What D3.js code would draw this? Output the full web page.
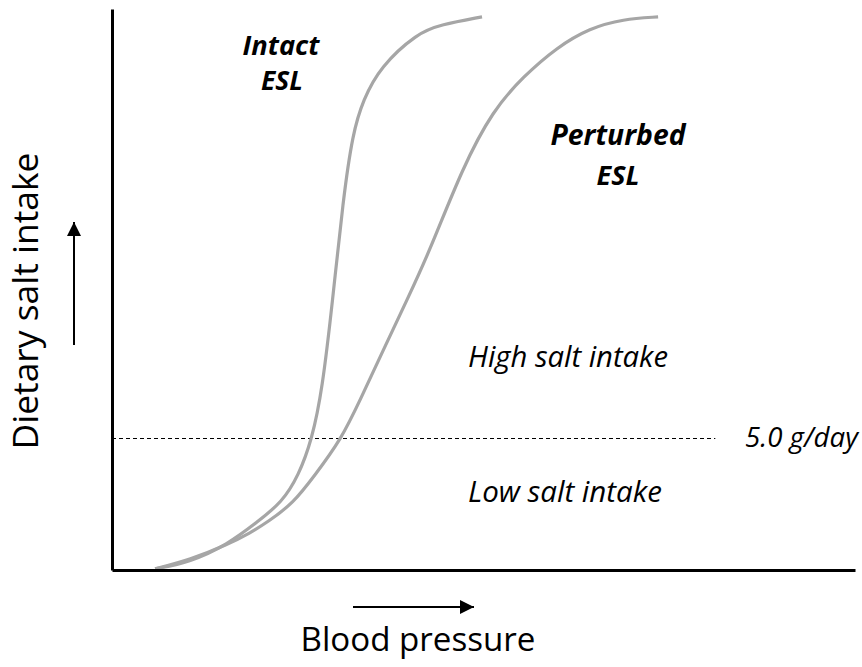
<!DOCTYPE html>
<html>
<head>
<meta charset="utf-8">
<script src="https://cdn.jsdelivr.net/npm/d3@7"></script>
<style>
  body { margin: 0; background: #fff; }
  text { font-family: "Open Sans", sans-serif; fill: #000; }
</style>
</head>
<body>
<div id="canvas"></div>
<script>
// curve samples (0-100 units on both axes)
var intactX    = [5.8, 10.5, 15.5, 19.6, 22.9, 25.1, 26.9, 28.3, 29.7, 31.1, 32.4, 33.8, 36.1, 41.1, 44.2, 49.8];
var intactY    = [0.2, 1.4, 4.5, 8.6, 12.1, 16.8, 23.2, 32.1, 48.1, 66.0, 77.9, 83.8, 89.7, 95.7, 97.2, 98.6];
var perturbedX = [5.8, 10.5, 15.5, 18.6, 21.0, 24.4, 27.3, 30.8, 33.4, 36.5, 39.7, 42.8, 47.2, 51.3, 55.3, 59.9, 64.3, 68.8, 73.5];
var perturbedY = [0.2, 1.8, 4.5, 6.6, 8.6, 11.9, 16.9, 23.2, 30.3, 39.2, 48.1, 57.0, 71.8, 82.0, 87.9, 93.2, 96.6, 98.2, 98.6];
var thresholdY = 23.5;
var thresholdEnd = 81.2;
var thresholdLabel = '5.0 g/day';
var curveLabels = [['Intact', 'ESL'], ['Perturbed', 'ESL']];
var zoneLabels = ['High salt intake', 'Low salt intake'];
var xTitle = 'Blood pressure', yTitle = 'Dietary salt intake';

var W = 862, H = 667;
var svg = d3.select('#canvas').append('svg')
    .attr('width', W).attr('height', H);

var x = d3.scaleLinear().domain([0, 100]).range([112, 855]);
var y = d3.scaleLinear().domain([0, 100]).range([570, 9]);

// markers for the arrows
svg.append('defs').append('marker')
    .attr('id', 'head')
    .attr('viewBox', '0 0 10 10')
    .attr('refX', 10).attr('refY', 5)
    .attr('markerUnits', 'userSpaceOnUse')
    .attr('markerWidth', 15).attr('markerHeight', 14)
    .attr('orient', 'auto')
    .append('path').attr('d', 'M0,0L10,5L0,10Z').attr('fill', '#000');

// threshold
var ty = Math.round(y(thresholdY)) + 0.5;
svg.append('line')
    .attr('x1', x(0)).attr('x2', x(thresholdEnd))
    .attr('y1', ty).attr('y2', ty)
    .attr('stroke', '#000').attr('stroke-width', 1)
    .attr('stroke-dasharray', '4,3');

// curves
var line = d3.line()
    .x(function(d){ return x(d[0]); })
    .y(function(d){ return y(d[1]); })
    .curve(d3.curveBasis);

[[intactX, intactY], [perturbedX, perturbedY]].forEach(function(s){
  svg.append('path')
      .datum(d3.zip(s[0], s[1]))
      .attr('d', line)
      .attr('fill', 'none')
      .attr('stroke', '#a6a6a6')
      .attr('stroke-width', 3.2);
});

// axes, no ticks
svg.append('g').attr('transform', 'translate(0,' + y(0) + ')')
    .call(d3.axisBottom(x).ticks(0).tickSizeOuter(0))
    .select('.domain').attr('stroke-width', 3);
svg.append('g').attr('transform', 'translate(' + x(0) + ',0)')
    .call(d3.axisLeft(y).ticks(0).tickSizeOuter(0))
    .select('.domain').attr('stroke-width', 3);

// fit a text to a given width
function fit(sel, width) {
  sel.style('font-size', '100px');
  var len = sel.node().getComputedTextLength();
  sel.style('font-size', (100 * width / len) + 'px');
  return sel;
}

function label(txt, cx, by, width, weight, style, anchor) {
  var t = svg.append('text').text(txt)
      .attr('x', cx).attr('y', by)
      .attr('text-anchor', anchor || 'middle')
      .style('font-weight', weight)
      .style('font-style', style);
  return fit(t, width);
}

label(curveLabels[0][0], 281, 55, 77, 'bold', 'italic');
label(curveLabels[0][1], 282, 90, 42, 'bold', 'italic');
label(curveLabels[1][0], 618, 145, 135, 'bold', 'italic');
label(curveLabels[1][1], 618, 185, 43, 'bold', 'italic');
label(zoneLabels[0], 468, 367, 200, 'normal', 'italic', 'start');
label(zoneLabels[1], 468, 502, 194, 'normal', 'italic', 'start');
label(thresholdLabel, 745, 447, 113, 'normal', 'italic', 'start');
label(xTitle, 418, 651, 235, 'normal', 'normal');

var yt = svg.append('text').text(yTitle)
    .attr('text-anchor', 'middle')
    .attr('transform', 'translate(38,301) rotate(-90)');
fit(yt, 297);

// direction arrows
svg.append('line')
    .attr('x1', 353).attr('x2', 474).attr('y1', 607).attr('y2', 607)
    .attr('stroke', '#000').attr('stroke-width', 2)
    .attr('marker-end', 'url(#head)');
svg.append('line')
    .attr('x1', 74).attr('x2', 74).attr('y1', 345).attr('y2', 222)
    .attr('stroke', '#000').attr('stroke-width', 2)
    .attr('marker-end', 'url(#head)');
</script>
</body>
</html>
